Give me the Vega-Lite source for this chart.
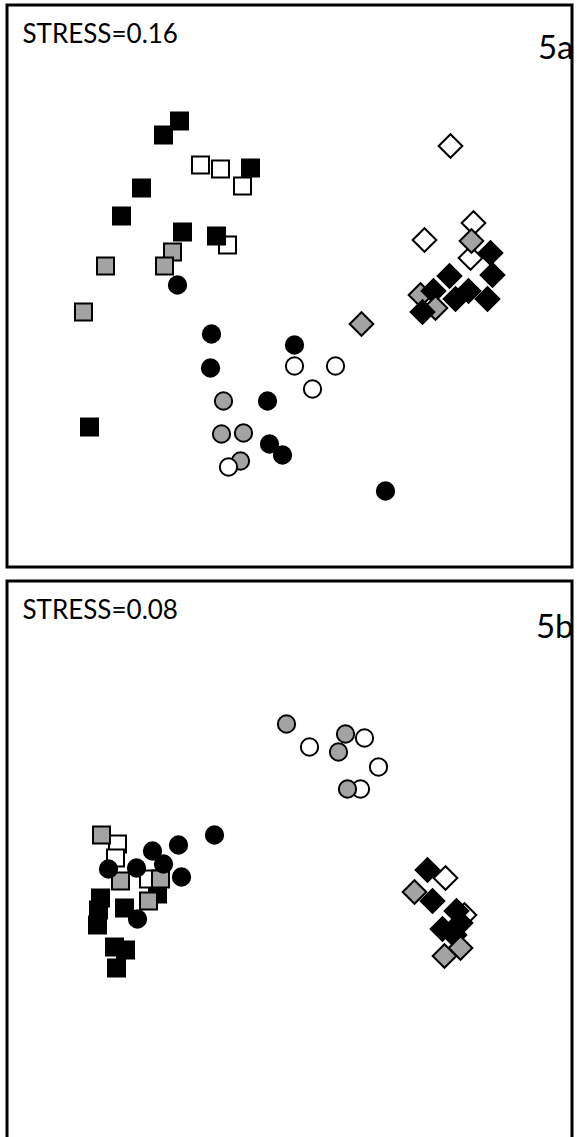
{
  "$schema": "https://vega.github.io/schema/vega-lite/v6.json",
  "background": "white",
  "padding": {"left": 5, "top": 3, "right": 7, "bottom": 0},
  "spacing": 10,
  "config": {
    "view": {"stroke": "black", "strokeWidth": 3},
    "text": {"font": "Lato"}
  },
  "datasets": {
    "pts": [
      {"panel": "a", "form": "square", "group": "open", "d1": -0.89, "d2": 1.21},
      {"panel": "a", "form": "square", "group": "open", "d1": -0.69, "d2": 1.17},
      {"panel": "a", "form": "square", "group": "open", "d1": -0.47, "d2": 1.00},
      {"panel": "a", "form": "square", "group": "open", "d1": -0.62, "d2": 0.41},
      {"panel": "a", "form": "square", "group": "gray", "d1": -1.17, "d2": 0.34},
      {"panel": "a", "form": "square", "group": "gray", "d1": -1.84, "d2": 0.20},
      {"panel": "a", "form": "square", "group": "gray", "d1": -1.25, "d2": 0.20},
      {"panel": "a", "form": "square", "group": "gray", "d1": -2.06, "d2": -0.26},
      {"panel": "a", "form": "square", "group": "black", "d1": -1.10, "d2": 1.65},
      {"panel": "a", "form": "square", "group": "black", "d1": -1.26, "d2": 1.51},
      {"panel": "a", "form": "square", "group": "black", "d1": -0.39, "d2": 1.18},
      {"panel": "a", "form": "square", "group": "black", "d1": -1.48, "d2": 0.98},
      {"panel": "a", "form": "square", "group": "black", "d1": -1.68, "d2": 0.70},
      {"panel": "a", "form": "square", "group": "black", "d1": -1.07, "d2": 0.54},
      {"panel": "a", "form": "square", "group": "black", "d1": -0.73, "d2": 0.50},
      {"panel": "a", "form": "square", "group": "black", "d1": -2.00, "d2": -1.41},
      {"panel": "a", "form": "circle", "group": "black", "d1": -1.12, "d2": 0.01},
      {"panel": "a", "form": "circle", "group": "black", "d1": -0.78, "d2": -0.48},
      {"panel": "a", "form": "circle", "group": "black", "d1": 0.05, "d2": -0.59},
      {"panel": "a", "form": "circle", "group": "black", "d1": -0.79, "d2": -0.82},
      {"panel": "a", "form": "circle", "group": "black", "d1": -0.22, "d2": -1.15},
      {"panel": "a", "form": "circle", "group": "black", "d1": -0.20, "d2": -1.58},
      {"panel": "a", "form": "circle", "group": "black", "d1": -0.07, "d2": -1.69},
      {"panel": "a", "form": "circle", "group": "black", "d1": 0.96, "d2": -2.05},
      {"panel": "a", "form": "circle", "group": "gray", "d1": -0.66, "d2": -1.15},
      {"panel": "a", "form": "circle", "group": "gray", "d1": -0.68, "d2": -1.48},
      {"panel": "a", "form": "circle", "group": "gray", "d1": -0.46, "d2": -1.47},
      {"panel": "a", "form": "circle", "group": "gray", "d1": -0.49, "d2": -1.75},
      {"panel": "a", "form": "circle", "group": "open", "d1": 0.05, "d2": -0.80},
      {"panel": "a", "form": "circle", "group": "open", "d1": 0.46, "d2": -0.80},
      {"panel": "a", "form": "circle", "group": "open", "d1": 0.23, "d2": -1.03},
      {"panel": "a", "form": "circle", "group": "open", "d1": -0.61, "d2": -1.81},
      {"panel": "a", "form": "diamond", "group": "open", "d1": 1.61, "d2": 1.40},
      {"panel": "a", "form": "diamond", "group": "open", "d1": 1.84, "d2": 0.63},
      {"panel": "a", "form": "diamond", "group": "open", "d1": 1.35, "d2": 0.46},
      {"panel": "a", "form": "diamond", "group": "open", "d1": 1.81, "d2": 0.28},
      {"panel": "a", "form": "diamond", "group": "gray", "d1": 1.82, "d2": 0.45},
      {"panel": "a", "form": "diamond", "group": "gray", "d1": 0.72, "d2": -0.38},
      {"panel": "a", "form": "diamond", "group": "gray", "d1": 1.31, "d2": -0.09},
      {"panel": "a", "form": "diamond", "group": "black", "d1": 2.01, "d2": 0.33},
      {"panel": "a", "form": "diamond", "group": "black", "d1": 1.60, "d2": 0.10},
      {"panel": "a", "form": "diamond", "group": "black", "d1": 2.03, "d2": 0.11},
      {"panel": "a", "form": "diamond", "group": "black", "d1": 1.44, "d2": -0.05},
      {"panel": "a", "form": "diamond", "group": "black", "d1": 1.79, "d2": -0.05},
      {"panel": "a", "form": "diamond", "group": "black", "d1": 1.66, "d2": -0.13},
      {"panel": "a", "form": "diamond", "group": "black", "d1": 1.98, "d2": -0.13},
      {"panel": "a", "form": "diamond", "group": "gray", "d1": 1.46, "d2": -0.22},
      {"panel": "a", "form": "diamond", "group": "black", "d1": 1.33, "d2": -0.26},

      {"panel": "b", "form": "square", "group": "black", "d1": -1.32, "d2": -0.32},
      {"panel": "b", "form": "square", "group": "black", "d1": -1.89, "d2": -0.36},
      {"panel": "b", "form": "square", "group": "black", "d1": -1.91, "d2": -0.48},
      {"panel": "b", "form": "square", "group": "black", "d1": -1.65, "d2": -0.46},
      {"panel": "b", "form": "square", "group": "black", "d1": -1.92, "d2": -0.63},
      {"panel": "b", "form": "square", "group": "black", "d1": -1.75, "d2": -0.85},
      {"panel": "b", "form": "square", "group": "black", "d1": -1.64, "d2": -0.88},
      {"panel": "b", "form": "square", "group": "black", "d1": -1.73, "d2": -1.06},
      {"panel": "b", "form": "square", "group": "open", "d1": -1.72, "d2": 0.18},
      {"panel": "b", "form": "square", "group": "open", "d1": -1.74, "d2": 0.04},
      {"panel": "b", "form": "square", "group": "open", "d1": -1.41, "d2": -0.17},
      {"panel": "b", "form": "square", "group": "gray", "d1": -1.88, "d2": 0.27},
      {"panel": "b", "form": "square", "group": "gray", "d1": -1.69, "d2": -0.19},
      {"panel": "b", "form": "square", "group": "gray", "d1": -1.29, "d2": -0.17},
      {"panel": "b", "form": "square", "group": "gray", "d1": -1.41, "d2": -0.39},
      {"panel": "b", "form": "circle", "group": "black", "d1": -0.75, "d2": 0.27},
      {"panel": "b", "form": "circle", "group": "black", "d1": -1.11, "d2": 0.17},
      {"panel": "b", "form": "circle", "group": "black", "d1": -1.37, "d2": 0.11},
      {"panel": "b", "form": "circle", "group": "black", "d1": -1.81, "d2": -0.07},
      {"panel": "b", "form": "circle", "group": "black", "d1": -1.53, "d2": -0.06},
      {"panel": "b", "form": "circle", "group": "black", "d1": -1.26, "d2": -0.02},
      {"panel": "b", "form": "circle", "group": "black", "d1": -1.08, "d2": -0.15},
      {"panel": "b", "form": "circle", "group": "black", "d1": -1.52, "d2": -0.57},
      {"panel": "b", "form": "circle", "group": "open", "d1": 0.20, "d2": 1.15},
      {"panel": "b", "form": "circle", "group": "open", "d1": 0.75, "d2": 1.24},
      {"panel": "b", "form": "circle", "group": "open", "d1": 0.89, "d2": 0.95},
      {"panel": "b", "form": "circle", "group": "open", "d1": 0.71, "d2": 0.73},
      {"panel": "b", "form": "circle", "group": "gray", "d1": -0.03, "d2": 1.38},
      {"panel": "b", "form": "circle", "group": "gray", "d1": 0.56, "d2": 1.28},
      {"panel": "b", "form": "circle", "group": "gray", "d1": 0.49, "d2": 1.10},
      {"panel": "b", "form": "circle", "group": "gray", "d1": 0.58, "d2": 0.73},
      {"panel": "b", "form": "diamond", "group": "open", "d1": 1.56, "d2": -0.16},
      {"panel": "b", "form": "diamond", "group": "open", "d1": 1.75, "d2": -0.53},
      {"panel": "b", "form": "diamond", "group": "black", "d1": 1.38, "d2": -0.08},
      {"panel": "b", "form": "diamond", "group": "black", "d1": 1.43, "d2": -0.39},
      {"panel": "b", "form": "diamond", "group": "black", "d1": 1.67, "d2": -0.49},
      {"panel": "b", "form": "diamond", "group": "black", "d1": 1.71, "d2": -0.61},
      {"panel": "b", "form": "diamond", "group": "black", "d1": 1.53, "d2": -0.67},
      {"panel": "b", "form": "diamond", "group": "black", "d1": 1.65, "d2": -0.73},
      {"panel": "b", "form": "diamond", "group": "gray", "d1": 1.25, "d2": -0.30},
      {"panel": "b", "form": "diamond", "group": "gray", "d1": 1.71, "d2": -0.86},
      {"panel": "b", "form": "diamond", "group": "gray", "d1": 1.55, "d2": -0.94}
    ],
    "labels": [
      {"panel": "a", "kind": "stress", "text": "STRESS=0.16", "d1": -2.67, "d2": 2.43},
      {"panel": "a", "kind": "tag", "text": "5a", "d1": 2.84, "d2": 2.27},
      {"panel": "b", "kind": "stress", "text": "STRESS=0.08", "d1": -2.67, "d2": 2.43},
      {"panel": "b", "kind": "tag", "text": "5b", "d1": 2.84, "d2": 2.24}
    ]
  },
  "vconcat": [
    {
      "width": 565,
      "height": 562,
      "encoding": {
        "x": {"field": "d1", "type": "quantitative", "scale": {"domain": [-2.825, 2.825], "nice": false, "zero": false}, "axis": null},
        "y": {"field": "d2", "type": "quantitative", "scale": {"domain": [-2.81, 2.81], "nice": false, "zero": false}, "axis": null}
      },
      "layer": [
        {
          "data": {"name": "pts"},
          "transform": [{"filter": "datum.panel === 'a' && datum.form === 'square'"}],
          "mark": {"type": "point", "shape": "square", "size": 289, "filled": true, "stroke": "black", "strokeWidth": 2, "opacity": 1},
          "encoding": {
            "fill": {"field": "group", "type": "nominal", "scale": {"domain": ["black", "gray", "open"], "range": ["#000000", "#a3a3a3", "#ffffff"]}, "legend": null}
          }
        },
        {
          "data": {"name": "pts"},
          "transform": [{"filter": "datum.panel === 'a' && datum.form === 'circle'"}],
          "mark": {"type": "point", "shape": "circle", "size": 300, "filled": true, "stroke": "black", "strokeWidth": 2, "opacity": 1},
          "encoding": {
            "fill": {"field": "group", "type": "nominal", "scale": {"domain": ["black", "gray", "open"], "range": ["#000000", "#a3a3a3", "#ffffff"]}, "legend": null}
          }
        },
        {
          "data": {"name": "pts"},
          "transform": [{"filter": "datum.panel === 'a' && datum.form === 'diamond'"}],
          "mark": {"type": "point", "shape": "diamond", "size": 560, "filled": true, "stroke": "black", "strokeWidth": 2, "opacity": 1},
          "encoding": {
            "fill": {"field": "group", "type": "nominal", "scale": {"domain": ["black", "gray", "open"], "range": ["#000000", "#a3a3a3", "#ffffff"]}, "legend": null}
          }
        },
        {
          "data": {"name": "labels"},
          "transform": [{"filter": "datum.panel === 'a' && datum.kind === 'stress'"}],
          "mark": {"type": "text", "align": "left", "baseline": "alphabetic", "fontSize": 26, "clip": false},
          "encoding": {"text": {"field": "text"}}
        },
        {
          "data": {"name": "labels"},
          "transform": [{"filter": "datum.panel === 'a' && datum.kind === 'tag'"}],
          "mark": {"type": "text", "align": "right", "baseline": "alphabetic", "fontSize": 33, "clip": false},
          "encoding": {"text": {"field": "text"}}
        }
      ]
    },
    {
      "width": 565,
      "height": 562,
      "encoding": {
        "x": {"field": "d1", "type": "quantitative", "scale": {"domain": [-2.825, 2.825], "nice": false, "zero": false}, "axis": null},
        "y": {"field": "d2", "type": "quantitative", "scale": {"domain": [-2.81, 2.81], "nice": false, "zero": false}, "axis": null}
      },
      "layer": [
        {
          "data": {"name": "pts"},
          "transform": [{"filter": "datum.panel === 'b' && datum.form === 'square'"}],
          "mark": {"type": "point", "shape": "square", "size": 289, "filled": true, "stroke": "black", "strokeWidth": 2, "opacity": 1},
          "encoding": {
            "fill": {"field": "group", "type": "nominal", "scale": {"domain": ["black", "gray", "open"], "range": ["#000000", "#a3a3a3", "#ffffff"]}, "legend": null}
          }
        },
        {
          "data": {"name": "pts"},
          "transform": [{"filter": "datum.panel === 'b' && datum.form === 'circle'"}],
          "mark": {"type": "point", "shape": "circle", "size": 300, "filled": true, "stroke": "black", "strokeWidth": 2, "opacity": 1},
          "encoding": {
            "fill": {"field": "group", "type": "nominal", "scale": {"domain": ["black", "gray", "open"], "range": ["#000000", "#a3a3a3", "#ffffff"]}, "legend": null}
          }
        },
        {
          "data": {"name": "pts"},
          "transform": [{"filter": "datum.panel === 'b' && datum.form === 'diamond'"}],
          "mark": {"type": "point", "shape": "diamond", "size": 560, "filled": true, "stroke": "black", "strokeWidth": 2, "opacity": 1},
          "encoding": {
            "fill": {"field": "group", "type": "nominal", "scale": {"domain": ["black", "gray", "open"], "range": ["#000000", "#a3a3a3", "#ffffff"]}, "legend": null}
          }
        },
        {
          "data": {"name": "labels"},
          "transform": [{"filter": "datum.panel === 'b' && datum.kind === 'stress'"}],
          "mark": {"type": "text", "align": "left", "baseline": "alphabetic", "fontSize": 26, "clip": false},
          "encoding": {"text": {"field": "text"}}
        },
        {
          "data": {"name": "labels"},
          "transform": [{"filter": "datum.panel === 'b' && datum.kind === 'tag'"}],
          "mark": {"type": "text", "align": "right", "baseline": "alphabetic", "fontSize": 33, "clip": false},
          "encoding": {"text": {"field": "text"}}
        }
      ]
    }
  ]
}
